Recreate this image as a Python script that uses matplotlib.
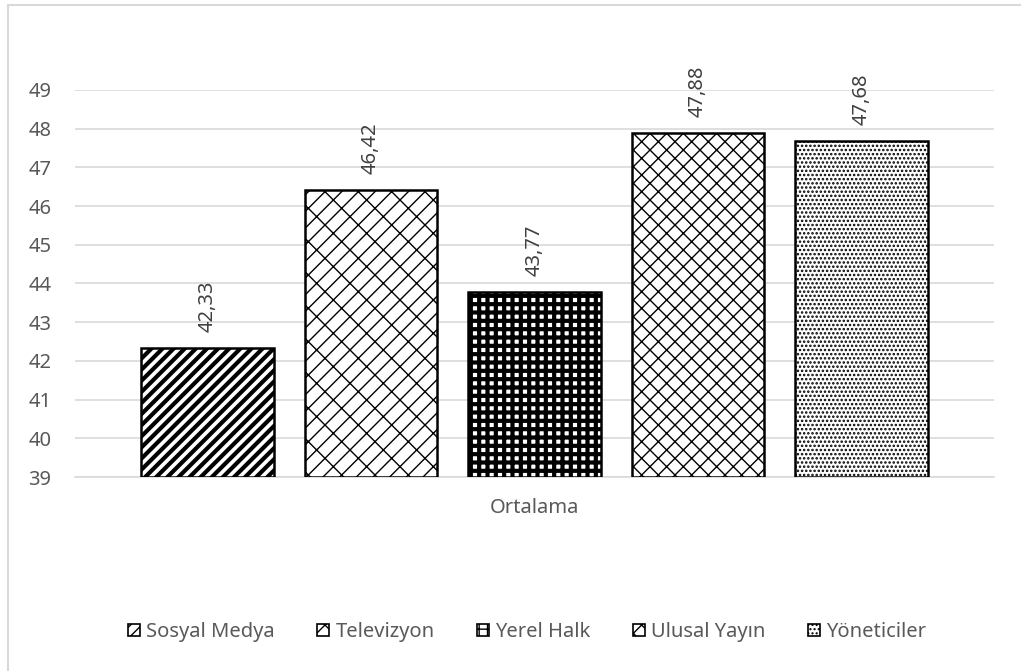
import matplotlib
matplotlib.use('Agg')
import matplotlib.pyplot as plt
from matplotlib import rcParams
from matplotlib.patches import Rectangle

rcParams['font.family'] = ['Noto Sans', 'DejaVu Sans']
rcParams['font.size'] = 14.5
rcParams['text.color'] = '#595959'

# data
series = ['Sosyal Medya', 'Televizyon', 'Yerel Halk', 'Ulusal Yayın', 'Yöneticiler']
values = [42.33, 46.42, 43.77, 47.88, 47.68]
category = 'Ortalama'
yticks = list(range(39, 50))

hatches = ['///', '//\\', '++', 'xx', '....']
hatch_lw = [3.0, 1.0, 3.0, 1.0, 1.2]

fig = plt.figure(figsize=(10.21, 6.71), dpi=100)
ax = fig.add_axes([0.0735, 0.289, 0.900, 0.577])

# outer chart border
fig.patches.append(Rectangle((8 / 1021, -0.05), 1.2, 1.05 - 5 / 671,
                             transform=fig.transFigure, fill=False,
                             edgecolor='#d9d9d9', linewidth=1.5))

x = list(range(len(series)))
for i, (name, val) in enumerate(zip(series, values)):
    with plt.rc_context({'hatch.linewidth': hatch_lw[i]}):
        b = ax.bar(x[i], val - 39, bottom=39, width=0.813, color='white',
                   edgecolor='black', linewidth=1.8, hatch=hatches[i],
                   label=name, zorder=3)
    for p in b:
        if hasattr(p, 'set_hatch_linewidth'):
            p.set_hatch_linewidth(hatch_lw[i])
    ax.text(x[i], val + 0.42, f'{val:.2f}'.replace('.', ','), rotation=90,
            ha='center', va='bottom', fontsize=14.5, color='#404040')

ax.set_xlim(-0.81, 4.81)
ax.set_ylim(39, 49)
ax.set_yticks(yticks)
ax.yaxis.grid(True, color='#d9d9d9', linewidth=1.2, zorder=0)
ax.set_axisbelow(True)
ax.tick_params(axis='y', length=0, pad=17, labelsize=14.5, labelcolor='#595959')
ax.set_xticks([])
for s in ['top', 'right', 'left']:
    ax.spines[s].set_visible(False)
ax.spines['bottom'].set_color('#d9d9d9')
ax.spines['bottom'].set_linewidth(1.2)

fig.text(534 / 1021, 1 - 508 / 671, category, ha='center', va='center',
         fontsize=14.5, color='#595959')

leg = fig.legend(loc='center', bbox_to_anchor=(527 / 1021, 1 - 632 / 671),
                 ncol=5, frameon=False, handlelength=0.6, handleheight=0.6,
                 handletextpad=0.3, columnspacing=2.1, fontsize=14.5)
for t in leg.get_texts():
    t.set_color('#595959')
for h in leg.legend_handles:
    h.set_linewidth(1.2)

fig.savefig('out.png', dpi=100)
